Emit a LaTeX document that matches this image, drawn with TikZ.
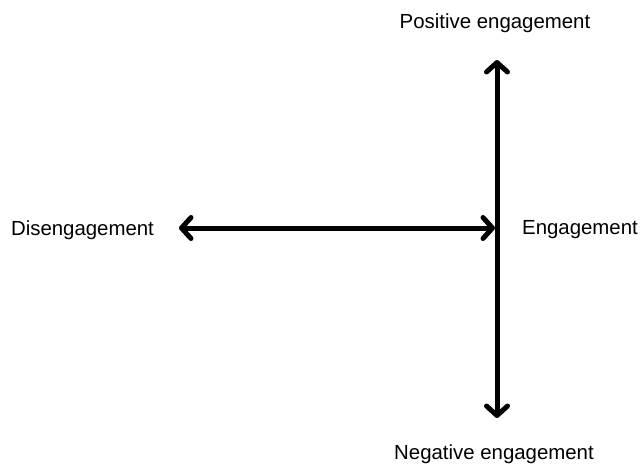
\documentclass[tikz,border=0pt]{standalone}
\usepackage{fontspec}
\setmainfont{Liberation Sans}
\usetikzlibrary{arrows.meta}
\begin{document}
\begin{tikzpicture}[x=1pt,y=-1pt,
  lbl/.style={font=\fontsize{20.4}{24}\selectfont, inner sep=0pt, text height=14.5pt, text depth=4pt},
  axis/.style={line width=5pt, line cap=round, {Straight Barb[length=9.5pt,width=21pt,line cap=round,line join=round]}-{Straight Barb[length=9.5pt,width=21pt,line cap=round,line join=round]}}]
\useasboundingbox (0,0) rectangle (642,466);
\coordinate (top) at (497,60);
\coordinate (bot) at (497,418);
\coordinate (lft) at (179,228);
\coordinate (rgt) at (495,228);
\draw[axis] (top) -- (bot);
\draw[axis] (lft) -- (rgt);
\node[lbl] (pos) at (495,23) {Positive engagement};
\node[lbl] (neg) at (494,454) {Negative engagement};
\node[lbl] (dis) at (82.5,230) {Disengagement};
\node[lbl] (eng) at (580,229) {Engagement};
\end{tikzpicture}
\end{document}
